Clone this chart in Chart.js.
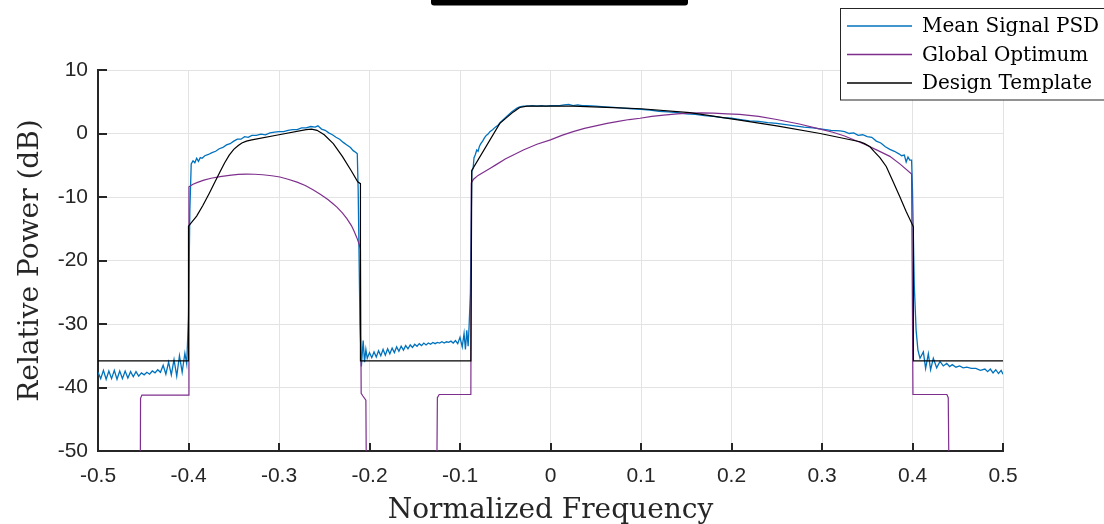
<!DOCTYPE html>
<html>
<head>
<meta charset="utf-8">
<script src="https://cdn.jsdelivr.net/npm/chart.js@4.4.1/dist/chart.umd.min.js"></script>
<style>
    html, body { margin: 0; padding: 0; background: #fff; }
    #wrap { width: 1104px; height: 524px; position: relative; }
</style>
</head>
<body>
<div id="wrap"><canvas id="psdChart"></canvas></div>
<script>
// Tick values and labels
const xTicks = [-0.5, -0.4, -0.3, -0.2, -0.1, 0, 0.1, 0.2, 0.3, 0.4, 0.5];
const xTickLabels = ['-0.5', '-0.4', '-0.3', '-0.2', '-0.1', '0', '0.1', '0.2', '0.3', '0.4', '0.5'];
const yTicks = [-50, -40, -30, -20, -10, 0, 10];
const yTickLabels = ['-50', '-40', '-30', '-20', '-10', '0', '10'];

const seriesLabels = ['Mean Signal PSD', 'Global Optimum', 'Design Template'];

// Mean Signal PSD
const psdFreq = [
    -0.500, -0.497, -0.494, -0.491, -0.488, -0.485, -0.482, -0.479, -0.476, -0.473,
    -0.470, -0.467, -0.464, -0.461, -0.458, -0.455, -0.452, -0.449, -0.446, -0.443,
    -0.440, -0.437, -0.434, -0.431, -0.428, -0.425, -0.422, -0.419, -0.416, -0.413,
    -0.410, -0.407, -0.404, -0.402, -0.400, -0.3985,
    -0.397, -0.395, -0.393, -0.391, -0.389, -0.387, -0.385, -0.382, -0.378, -0.374,
    -0.370, -0.366, -0.362, -0.358, -0.354, -0.350, -0.346, -0.342, -0.338, -0.334,
    -0.330, -0.325, -0.320, -0.315, -0.310, -0.305, -0.300, -0.295, -0.290, -0.285,
    -0.280, -0.275, -0.270, -0.265, -0.260, -0.257, -0.253, -0.249, -0.245, -0.241,
    -0.237, -0.233, -0.229, -0.225, -0.221, -0.218, -0.215, -0.2135, -0.2125, -0.2105,
    -0.2090,
    -0.2070, -0.2055, -0.2040, -0.2025, -0.2000, -0.1975, -0.1950, -0.1925, -0.1900, -0.1875,
    -0.1850, -0.1825, -0.1800, -0.1775, -0.1750, -0.1725, -0.1700, -0.1675, -0.1650, -0.1625,
    -0.1600, -0.1575, -0.1550, -0.1525, -0.1500, -0.1475, -0.1450, -0.1425, -0.1400, -0.1375,
    -0.1350, -0.1325, -0.1300, -0.1275, -0.1250, -0.1225, -0.1200, -0.1175, -0.1150, -0.1125,
    -0.1100, -0.1075, -0.1050, -0.1025, -0.1000, -0.0975, -0.0955, -0.0940, -0.0925, -0.0910,
    -0.0900,
    -0.0885, -0.0870, -0.0855, -0.0845, -0.0830, -0.0815, -0.0800, -0.0785, -0.0770, -0.0750,
    -0.0730, -0.0710, -0.0690, -0.0670, -0.0640, -0.0610, -0.0580, -0.0550, -0.0520, -0.0490,
    -0.0460, -0.0430, -0.0400, -0.0370, -0.0340, -0.0300, -0.0250, -0.0200, -0.0150, -0.0100,
    -0.0050, 0.0000, 0.0050, 0.0100, 0.0150, 0.0200, 0.0250, 0.0300, 0.0350, 0.0400,
    0.0500, 0.0600, 0.0700, 0.0800, 0.0900, 0.1000, 0.1100, 0.1200, 0.1300, 0.1400,
    0.1500, 0.1600, 0.1700, 0.1800, 0.1900, 0.2000, 0.2100, 0.2200, 0.2300, 0.2400,
    0.2500, 0.2600, 0.2700, 0.2800, 0.2900, 0.3000, 0.3100, 0.3200, 0.3250, 0.3300,
    0.3350, 0.3400, 0.3450, 0.3500, 0.3550, 0.3600, 0.3650, 0.3700, 0.3750, 0.3800,
    0.3850, 0.3880, 0.3910, 0.3930, 0.3950, 0.3970, 0.3990, 0.4000, 0.4020, 0.4040,
    0.4060, 0.4083, 0.4120, 0.4145, 0.4175, 0.4200, 0.4230, 0.4267, 0.4304, 0.4340,
    0.4378, 0.4410, 0.4440, 0.4480, 0.4520, 0.4560, 0.4600, 0.4650, 0.4700, 0.4750,
    0.4800, 0.4830, 0.4860, 0.4890, 0.4920, 0.4950, 0.4980, 0.5000
];
const psdPower = [
    -37.6, -38.6, -37.3, -38.7, -37.4, -38.6, -37.3, -38.7, -37.4, -38.6,
    -37.4, -38.5, -37.5, -38.3, -37.5, -38.2, -37.7, -38.0, -37.6, -37.9,
    -37.4, -37.7, -37.2, -37.6, -36.5, -37.9, -36.0, -38.0, -35.6, -38.2,
    -35.0, -37.6, -34.6, -36.3, -29.0, -12.0,
    -4.8, -4.3, -4.6, -3.9, -4.4, -3.8, -3.9, -3.5, -3.3, -3.0,
    -2.8, -2.4, -2.2, -1.8, -1.6, -1.2, -0.9, -0.9, -0.5, -0.6,
    -0.3, -0.3, -0.1, -0.2, 0.1, 0.2, 0.3, 0.3, 0.5, 0.6,
    0.6, 0.9, 0.9, 1.1, 1.0, 1.2, 0.7, 0.5, 0.1, -0.2,
    -0.6, -0.9, -1.4, -1.8, -2.2, -2.7, -3.0, -3.2, -9.0, -30.0,
    -36.7,
    -32.6, -36.0, -34.0, -35.4, -34.5, -35.3, -34.4, -35.2, -34.2, -35.0,
    -34.0, -34.9, -33.9, -34.7, -33.8, -34.5, -33.6, -34.3, -33.5, -34.1,
    -33.4, -33.9, -33.3, -33.7, -33.2, -33.5, -33.1, -33.4, -33.0, -33.3,
    -33.0, -33.2, -32.9, -33.1, -32.9, -33.0, -32.8, -33.0, -32.8, -32.9,
    -32.7, -33.0, -32.6, -33.1, -32.1, -33.6, -31.5, -34.0, -31.0, -33.5,
    -30.5,
    -25.0, -6.0, -5.5, -3.8, -3.3, -2.6, -2.8, -2.0, -1.6, -1.2,
    -0.7, -0.3, -0.1, 0.3, 0.6, 1.0, 1.3, 1.8, 2.2, 2.6,
    3.0, 3.4, 3.7, 4.0, 4.2, 4.3, 4.3, 4.4, 4.3, 4.4,
    4.3, 4.4, 4.4, 4.4, 4.5, 4.6, 4.4, 4.5, 4.4, 4.4,
    4.3, 4.2, 4.1, 4.0, 3.9, 3.8, 3.7, 3.5, 3.4, 3.3,
    3.1, 3.0, 2.8, 2.7, 2.5, 2.4, 2.2, 2.0, 1.9, 1.7,
    1.6, 1.4, 1.2, 1.0, 0.9, 0.7, 0.5, 0.4, 0.3, 0.0,
    0.1, -0.3, -0.2, -0.5, -0.6, -1.2, -1.5, -2.1, -2.5, -2.8,
    -3.2, -3.5, -3.4, -4.5, -3.7, -4.2, -4.2, -9.0, -24.0, -31.0,
    -34.1, -35.4, -34.4, -37.0, -34.7, -37.2, -35.4, -36.9, -35.9, -36.6,
    -36.2, -36.7, -36.4, -36.8, -36.6, -36.9, -36.8, -37.0, -37.0, -37.3,
    -37.1, -37.5, -37.1, -37.7, -37.2, -37.8, -37.3, -37.9
];

// Global Optimum
const optFreq = [
    -0.4536, -0.4530, -0.4515, -0.4000, -0.3995, -0.3950, -0.3900, -0.3830, -0.3750, -0.3650,
    -0.3550, -0.3450, -0.3360, -0.3270, -0.3180, -0.3080, -0.2990, -0.2900, -0.2800, -0.2710,
    -0.2620, -0.2540, -0.2460, -0.2400, -0.2360, -0.2300, -0.2250, -0.2200, -0.2170, -0.2140,
    -0.2120, -0.2100, -0.2092, -0.2075, -0.2040, -0.2028,
    -0.1265, -0.1250, -0.1230, -0.0880, -0.0875, -0.0850, -0.0800, -0.0740, -0.0670, -0.0600,
    -0.0500, -0.0400, -0.0300, -0.0150, 0.0000, 0.0125, 0.0250, 0.0375, 0.0500, 0.0625,
    0.0750, 0.0870, 0.0990, 0.1120, 0.1250, 0.1400, 0.1540, 0.1670, 0.1800, 0.1950,
    0.2090, 0.2300, 0.2500, 0.2750, 0.2980, 0.3120, 0.3250, 0.3370, 0.3490, 0.3620,
    0.3750, 0.3870, 0.3990, 0.4005, 0.4380, 0.4395, 0.4414
];
const optPower = [
    -70, -41.7, -41.2, -41.2, -8.4, -8.0, -7.7, -7.35, -7.05, -6.8,
    -6.6, -6.45, -6.4, -6.42, -6.5, -6.65, -6.85, -7.2, -7.65, -8.2,
    -8.9, -9.6, -10.4, -11.1, -11.6, -12.5, -13.4, -14.5, -15.4, -16.4,
    -17.2, -18.2, -40.9, -41.3, -42.0, -70,
    -70, -41.6, -41.1, -41.1, -7.8, -7.2, -6.6, -6.1, -5.5, -4.9,
    -4.0, -3.3, -2.6, -1.7, -1.0, -0.3, 0.3, 0.8, 1.2, 1.6,
    1.9, 2.2, 2.4, 2.7, 2.9, 3.1, 3.2, 3.25, 3.2, 3.1,
    3.0, 2.7, 2.2, 1.5, 0.7, 0.2, -0.4, -1.1, -1.8, -2.7,
    -3.6, -4.9, -6.4, -41.1, -41.1, -41.6, -70
];

// Design Template
const tmplFreq = [
    -0.500, -0.400, -0.400, -0.391, -0.384, -0.377, -0.370, -0.365, -0.360, -0.355,
    -0.350, -0.345, -0.341, -0.336, -0.330, -0.300, -0.270, -0.264, -0.258, -0.250,
    -0.240, -0.230, -0.220, -0.213, -0.210, -0.210, -0.088, -0.087, -0.056, -0.0485,
    -0.041, -0.034, -0.026, 0.025, 0.062, 0.100, 0.154, 0.209, 0.250, 0.298,
    0.342, 0.347, 0.353, 0.358, 0.364, 0.371, 0.378, 0.386, 0.393, 0.401,
    0.401, 0.500
];
const tmplPower = [
    -35.8, -35.8, -14.6, -13.0, -11.3, -9.4, -7.4, -6.0, -4.6, -3.4,
    -2.5, -1.9, -1.5, -1.2, -1.0, -0.2, 0.6, 0.7, 0.5, -0.2,
    -1.6, -3.6, -5.9, -7.6, -7.9, -35.8, -35.8, -5.8, 1.6, 2.5,
    3.4, 4.1, 4.3, 4.3, 4.1, 3.9, 3.3, 2.1, 1.2, 0.0,
    -1.3, -1.6, -2.1, -2.9, -3.8, -5.2, -7.4, -9.95, -12.3, -14.7,
    -35.8, -35.8
];

const lineColors = ['#0072BD', '#7E2F8E', '#000000'];
const axisColor = '#262626';

function toPoints(xs, ys) {
    return xs.map((x, i) => ({ x: x, y: ys[i] }));
}

// inward tick marks like the original figure
const inwardTicks = {
    id: 'inwardTicks',
    afterDatasetsDraw(chart) {
        const { ctx, chartArea, scales } = chart;
        ctx.save();
        ctx.strokeStyle = axisColor;
        ctx.lineWidth = 2;
        ctx.beginPath();
        scales.x.ticks.forEach(t => {
            const px = Math.round(scales.x.getPixelForValue(t.value));
            ctx.moveTo(px, chartArea.bottom);
            ctx.lineTo(px, chartArea.bottom - 8);
        });
        scales.y.ticks.forEach(t => {
            const py = Math.round(scales.y.getPixelForValue(t.value));
            ctx.moveTo(chartArea.left, py);
            ctx.lineTo(chartArea.left + 9, py);
        });
        ctx.stroke();
        ctx.restore();
    }
};

// boxed legend in the top-right corner
const boxLegend = {
    id: 'boxLegend',
    afterDraw(chart) {
        const ctx = chart.ctx;
        ctx.save();
        ctx.fillStyle = '#fff';
        ctx.fillRect(840.5, 8.5, 280, 91.5);
        ctx.strokeStyle = axisColor;
        ctx.lineWidth = 1;
        ctx.strokeRect(840.5, 8.5, 280, 91.5);
        ctx.font = '20px "DejaVu Serif"';
        ctx.textBaseline = 'alphabetic';
        chart.data.datasets.forEach((ds, i) => {
            const y = 26 + i * 28.5;
            ctx.strokeStyle = ds.borderColor;
            ctx.lineWidth = 1.3;
            ctx.beginPath();
            ctx.moveTo(847, y);
            ctx.lineTo(912, y);
            ctx.stroke();
            ctx.fillStyle = '#000';
            ctx.fillText(ds.label, 922, y + 6);
        });
        // cut-off title bar at the top
        ctx.fillStyle = '#000';
        ctx.beginPath();
        ctx.roundRect(431, -6, 257, 11.5, 3);
        ctx.fill();
        ctx.restore();
    }
};

const ctx = document.getElementById('psdChart').getContext('2d');
const chart = new Chart(ctx, {
    type: 'line',
    data: {
        datasets: [
            {
                label: seriesLabels[0],
                data: toPoints(psdFreq, psdPower),
                borderColor: lineColors[0],
                borderWidth: 1.3,
                order: 3
            },
            {
                label: seriesLabels[1],
                data: toPoints(optFreq, optPower),
                borderColor: lineColors[1],
                borderWidth: 1.2,
                order: 2
            },
            {
                label: seriesLabels[2],
                data: toPoints(tmplFreq, tmplPower),
                borderColor: lineColors[2],
                borderWidth: 1.2,
                order: 1
            }
        ]
    },
    options: {
        responsive: true,
        maintainAspectRatio: false,
        animation: false,
        layout: { padding: { top: 70, right: 101, left: 0, bottom: 0 } },
        elements: {
            point: { radius: 0 },
            line: { tension: 0, fill: false }
        },
        plugins: {
            legend: { display: false },
            tooltip: { enabled: false }
        },
        scales: {
            x: {
                type: 'linear',
                min: -0.5,
                max: 0.5,
                afterFit: s => { s.height = 73; },
                afterBuildTicks: s => { s.ticks = xTicks.map(v => ({ value: v })); },
                grid: { color: '#e3e3e3', lineWidth: 1, drawTicks: false },
                border: { display: true, color: axisColor, width: 2 },
                ticks: {
                    autoSkip: false,
                    maxRotation: 0,
                    padding: 13,
                    color: axisColor,
                    font: { family: '"Liberation Sans", Arial, sans-serif', size: 21 },
                    callback: (v, i) => xTickLabels[i]
                },
                title: {
                    display: true,
                    text: 'Normalized Frequency',
                    color: axisColor,
                    padding: { top: 0, bottom: -4 },
                    font: { family: '"DejaVu Serif", serif', size: 28 }
                }
            },
            y: {
                min: -50,
                max: 10,
                afterFit: s => { s.width = 98; },
                afterBuildTicks: s => { s.ticks = yTicks.map(v => ({ value: v })); },
                grid: { color: '#e3e3e3', lineWidth: 1, drawTicks: false },
                border: { display: true, color: axisColor, width: 2 },
                ticks: {
                    autoSkip: false,
                    padding: 10,
                    color: axisColor,
                    font: { family: '"Liberation Sans", Arial, sans-serif', size: 21 },
                    callback: (v, i) => yTickLabels[i]
                },
                title: {
                    display: true,
                    text: 'Relative Power (dB)',
                    color: axisColor,
                    padding: { top: 14, bottom: 0 },
                    font: { family: '"DejaVu Serif", serif', size: 28 }
                }
            }
        }
    },
    plugins: [inwardTicks, boxLegend]
});
</script>
</body>
</html>
